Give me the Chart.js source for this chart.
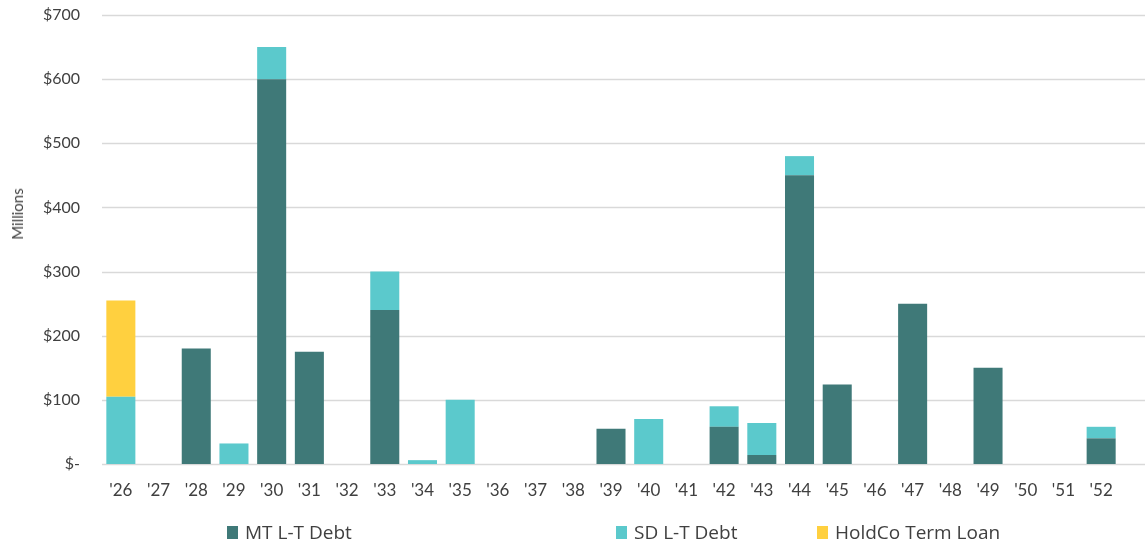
<!DOCTYPE html>
<html>
<head>
<meta charset="utf-8">
<script src="https://cdn.jsdelivr.net/npm/chart.js@4.4.1/dist/chart.umd.min.js"></script>
<style>
  html, body { margin: 0; padding: 0; background: #ffffff; }
  #wrap { position: relative; width: 1145px; height: 543px; overflow: hidden; }
  #c { position: absolute; left: 0; top: 0; }
  #ytitle { position: absolute; left: 17px; top: 214px; transform: translate(-50%, -50%) rotate(-90deg);
            font-family: Lato, "Open Sans", sans-serif; font-size: 15px; color: #404040; white-space: nowrap; }
  .lg { position: absolute; top: 521px; height: 22px; display: flex; align-items: center;
        font-family: "Open Sans", "Noto Sans", sans-serif; font-size: 19px; color: #404040; white-space: nowrap; }
  .lg span.box { display: inline-block; width: 11px; height: 13px; margin-right: 7px; }
</style>
</head>
<body>
<div id="wrap">
  <canvas id="c" width="1145" height="543"></canvas>
  <div id="ytitle">Millions</div>
  <div id="legend"></div>
</div>
<script>
const categories = ["'26","'27","'28","'29","'30","'31","'32","'33","'34","'35","'36","'37","'38","'39","'40","'41","'42","'43","'44","'45","'46","'47","'48","'49","'50","'51","'52"];
const mtDebt     = [0, 0, 180, 0, 600, 175, 0, 240, 0, 0, 0, 0, 0, 55, 0, 0, 58, 14, 450, 124, 0, 250, 0, 150, 0, 0, 40];
const sdDebt     = [105, 0, 0, 32, 50, 0, 0, 60, 6, 100, 0, 0, 0, 0, 70, 0, 32, 50, 30, 0, 0, 0, 0, 0, 0, 0, 18];
const holdcoLoan = [150, 0, 0, 0, 0, 0, 0, 0, 0, 0, 0, 0, 0, 0, 0, 0, 0, 0, 0, 0, 0, 0, 0, 0, 0, 0, 0];
const seriesNames = ["MT L-T Debt", "SD L-T Debt", "HoldCo Term Loan"];
const seriesColors = ["#3f7978", "#5bc9cc", "#ffd03f"];
const yTicks = [0, 100, 200, 300, 400, 500, 600, 700];

const datasets = [mtDebt, sdDebt, holdcoLoan].map((d, i) => ({
  label: seriesNames[i],
  data: d,
  backgroundColor: seriesColors[i],
  borderWidth: 0,
  categoryPercentage: 1.0,
  barPercentage: 0.77
}));

const fullGrid = {
  id: 'fullGrid',
  beforeDatasetsDraw(chart) {
    const y = chart.scales.y;
    const ctx = chart.ctx;
    ctx.save();
    ctx.strokeStyle = '#d9d9d9';
    ctx.lineWidth = 1.5;
    y.ticks.forEach(t => {
      const py = Math.round(y.getPixelForValue(t.value)) + 0.5;
      ctx.beginPath();
      ctx.moveTo(chart.chartArea.left, py);
      ctx.lineTo(chart.width, py);
      ctx.stroke();
    });
    ctx.restore();
  }
};

new Chart(document.getElementById('c'), {
  type: 'bar',
  data: { labels: categories, datasets },
  plugins: [fullGrid],
  options: {
    responsive: false,
    animation: false,
    layout: { padding: { left: 0, right: 25, top: 15, bottom: 0 } },
    plugins: { legend: { display: false }, title: { display: false }, tooltip: { enabled: false } },
    scales: {
      x: {
        stacked: true,
        grid: { display: false, drawTicks: false },
        border: { display: false },
        ticks: { color: '#404040', font: { family: 'Lato, "Open Sans", sans-serif', size: 17 }, padding: 16, maxRotation: 0, autoSkip: false },
        afterFit(scale) { scale.height = 79; }
      },
      y: {
        stacked: true,
        min: 0, max: 700,
        afterBuildTicks(scale) { scale.ticks = yTicks.map(v => ({ value: v })); },
        grid: { display: false, drawTicks: false },
        border: { display: false },
        ticks: {
          color: '#404040',
          font: { family: 'Lato, "Open Sans", sans-serif', size: 16 },
          padding: 22,
          callback: v => v === 0 ? '$-' : '$' + v
        },
        afterFit(scale) { scale.width = 102; scale.paddingTop = 0; scale.paddingBottom = 0; }
      }
    }
  }
});

const legendPos = [227, 616, 817];
const lg = document.getElementById('legend');
seriesNames.forEach((n, i) => {
  const d = document.createElement('div');
  d.className = 'lg';
  d.style.left = legendPos[i] + 'px';
  d.innerHTML = '<span class="box" style="background:' + seriesColors[i] + '"></span>' + n;
  lg.appendChild(d);
});
</script>
</body>
</html>
